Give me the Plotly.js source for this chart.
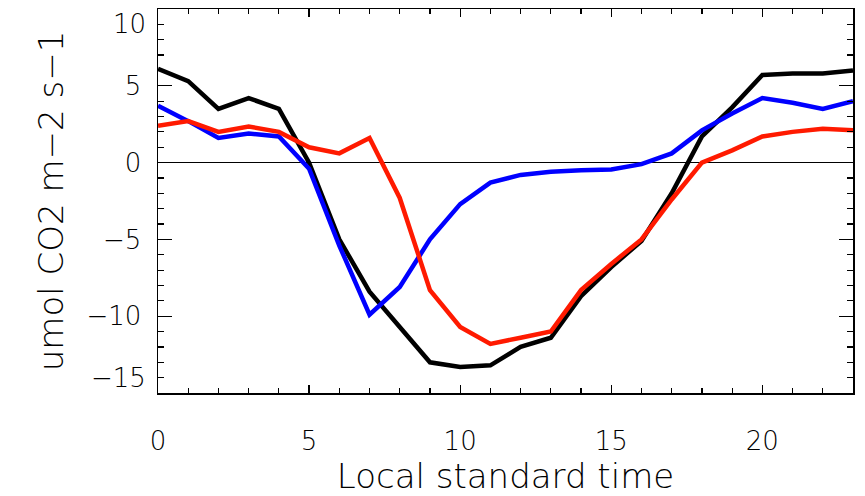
<!DOCTYPE html>
<html>
<head>
<meta charset="utf-8">
<script src="https://cdn.plot.ly/plotly-3.0.1.min.js"></script>
<style>html,body{margin:0;padding:0;background:#fff;}#chart{width:865px;height:496px;}</style>
</head>
<body>
<div id="chart"></div>
<script>
// Local standard time (hours)
const hours = [0,1,2,3,4,5,6,7,8,9,10,11,12,13,14,15,16,17,18,19,20,21,22,23];
// Flux series, umol CO2 m-2 s-1
const blackSeries = [6.1,5.3,3.5,4.2,3.5,0.0,-5.0,-8.4,-10.7,-13.0,-13.3,-13.2,-12.0,-11.4,-8.7,-6.8,-5.1,-2.0,1.7,3.6,5.7,5.8,5.8,6.0];
const blueSeries  = [3.7,2.7,1.6,1.9,1.7,-0.4,-5.4,-9.9,-8.1,-5.0,-2.7,-1.3,-0.8,-0.6,-0.5,-0.45,-0.1,0.6,2.1,3.2,4.2,3.9,3.5,4.0];
const redSeries   = [2.4,2.7,2.0,2.35,2.0,1.0,0.6,1.6,-2.3,-8.3,-10.7,-11.8,-11.4,-11.0,-8.3,-6.6,-5.0,-2.4,0.0,0.8,1.7,2.0,2.2,2.1];
const yTickVals = [-15,-10,-5,0,5,10];
const yTickText = ['','\u221210','\u22125','0','5',''];
const xTitle = 'Local standard time';
const yTitle = 'umol CO2 m\u22122 s\u22121';

const font = {family: 'DejaVu Sans', color: '#000', weight: 300};

const traces = [
  {x: hours, y: blackSeries, mode: 'lines', line: {color: '#000000', width: 4.5}},
  {x: hours, y: blueSeries,  mode: 'lines', line: {color: '#0000ff', width: 4.5}},
  {x: hours, y: redSeries,   mode: 'lines', line: {color: '#ff1a00', width: 4.5}}
];

const layout = {
  width: 865, height: 496,
  margin: {l: 158, r: 12, t: 9, b: 103, pad: 0},
  paper_bgcolor: '#fff', plot_bgcolor: '#fff',
  showlegend: false,
  font: Object.assign({size: 26}, font),
  xaxis: {
    range: [0, 23], tickvals: [0,5,10,15,20], ticks: 'inside', ticklen: 8, tickwidth: 1.2,
    tickcolor: '#000', showline: true, linecolor: '#000', linewidth: 1.5, mirror: 'ticks',
    showgrid: false, zeroline: false, ticklabelstandoff: 24,
    minor: {dtick: 1, ticks: 'inside', ticklen: 5, tickwidth: 1.2, tickcolor: '#000', showgrid: false},
    tickfont: Object.assign({size: 26}, font),
    title: {text: xTitle, font: Object.assign({size: 34}, font), standoff: 8}
  },
  yaxis: {
    range: [-15, 10], tickvals: yTickVals, ticktext: yTickText, ticks: 'inside', ticklen: 14, tickwidth: 1.2,
    tickcolor: '#000', showline: true, linecolor: '#000', linewidth: 1.5, mirror: 'ticks',
    showgrid: false, zeroline: true, zerolinecolor: '#000', zerolinewidth: 1.5, ticklabelstandoff: 10,
    minor: {dtick: 1, ticks: 'inside', ticklen: 6, tickwidth: 1.2, tickcolor: '#000', showgrid: false},
    tickfont: Object.assign({size: 26}, font),
    title: {text: yTitle, font: Object.assign({size: 34}, font), standoff: 12}
  },
  annotations: [
    {text: '10', xref: 'paper', yref: 'paper', x: 0, y: 1, xanchor: 'right', yanchor: 'top', xshift: -10, yshift: 2, showarrow: false, font: Object.assign({size: 26}, font)},
    {text: '\u221215', xref: 'paper', yref: 'paper', x: 0, y: 0, xanchor: 'right', yanchor: 'bottom', xshift: -10, yshift: -2, showarrow: false, font: Object.assign({size: 26}, font)}
  ]
};

Plotly.newPlot('chart', traces, layout, {staticPlot: true, displayModeBar: false});
</script>
</body>
</html>
